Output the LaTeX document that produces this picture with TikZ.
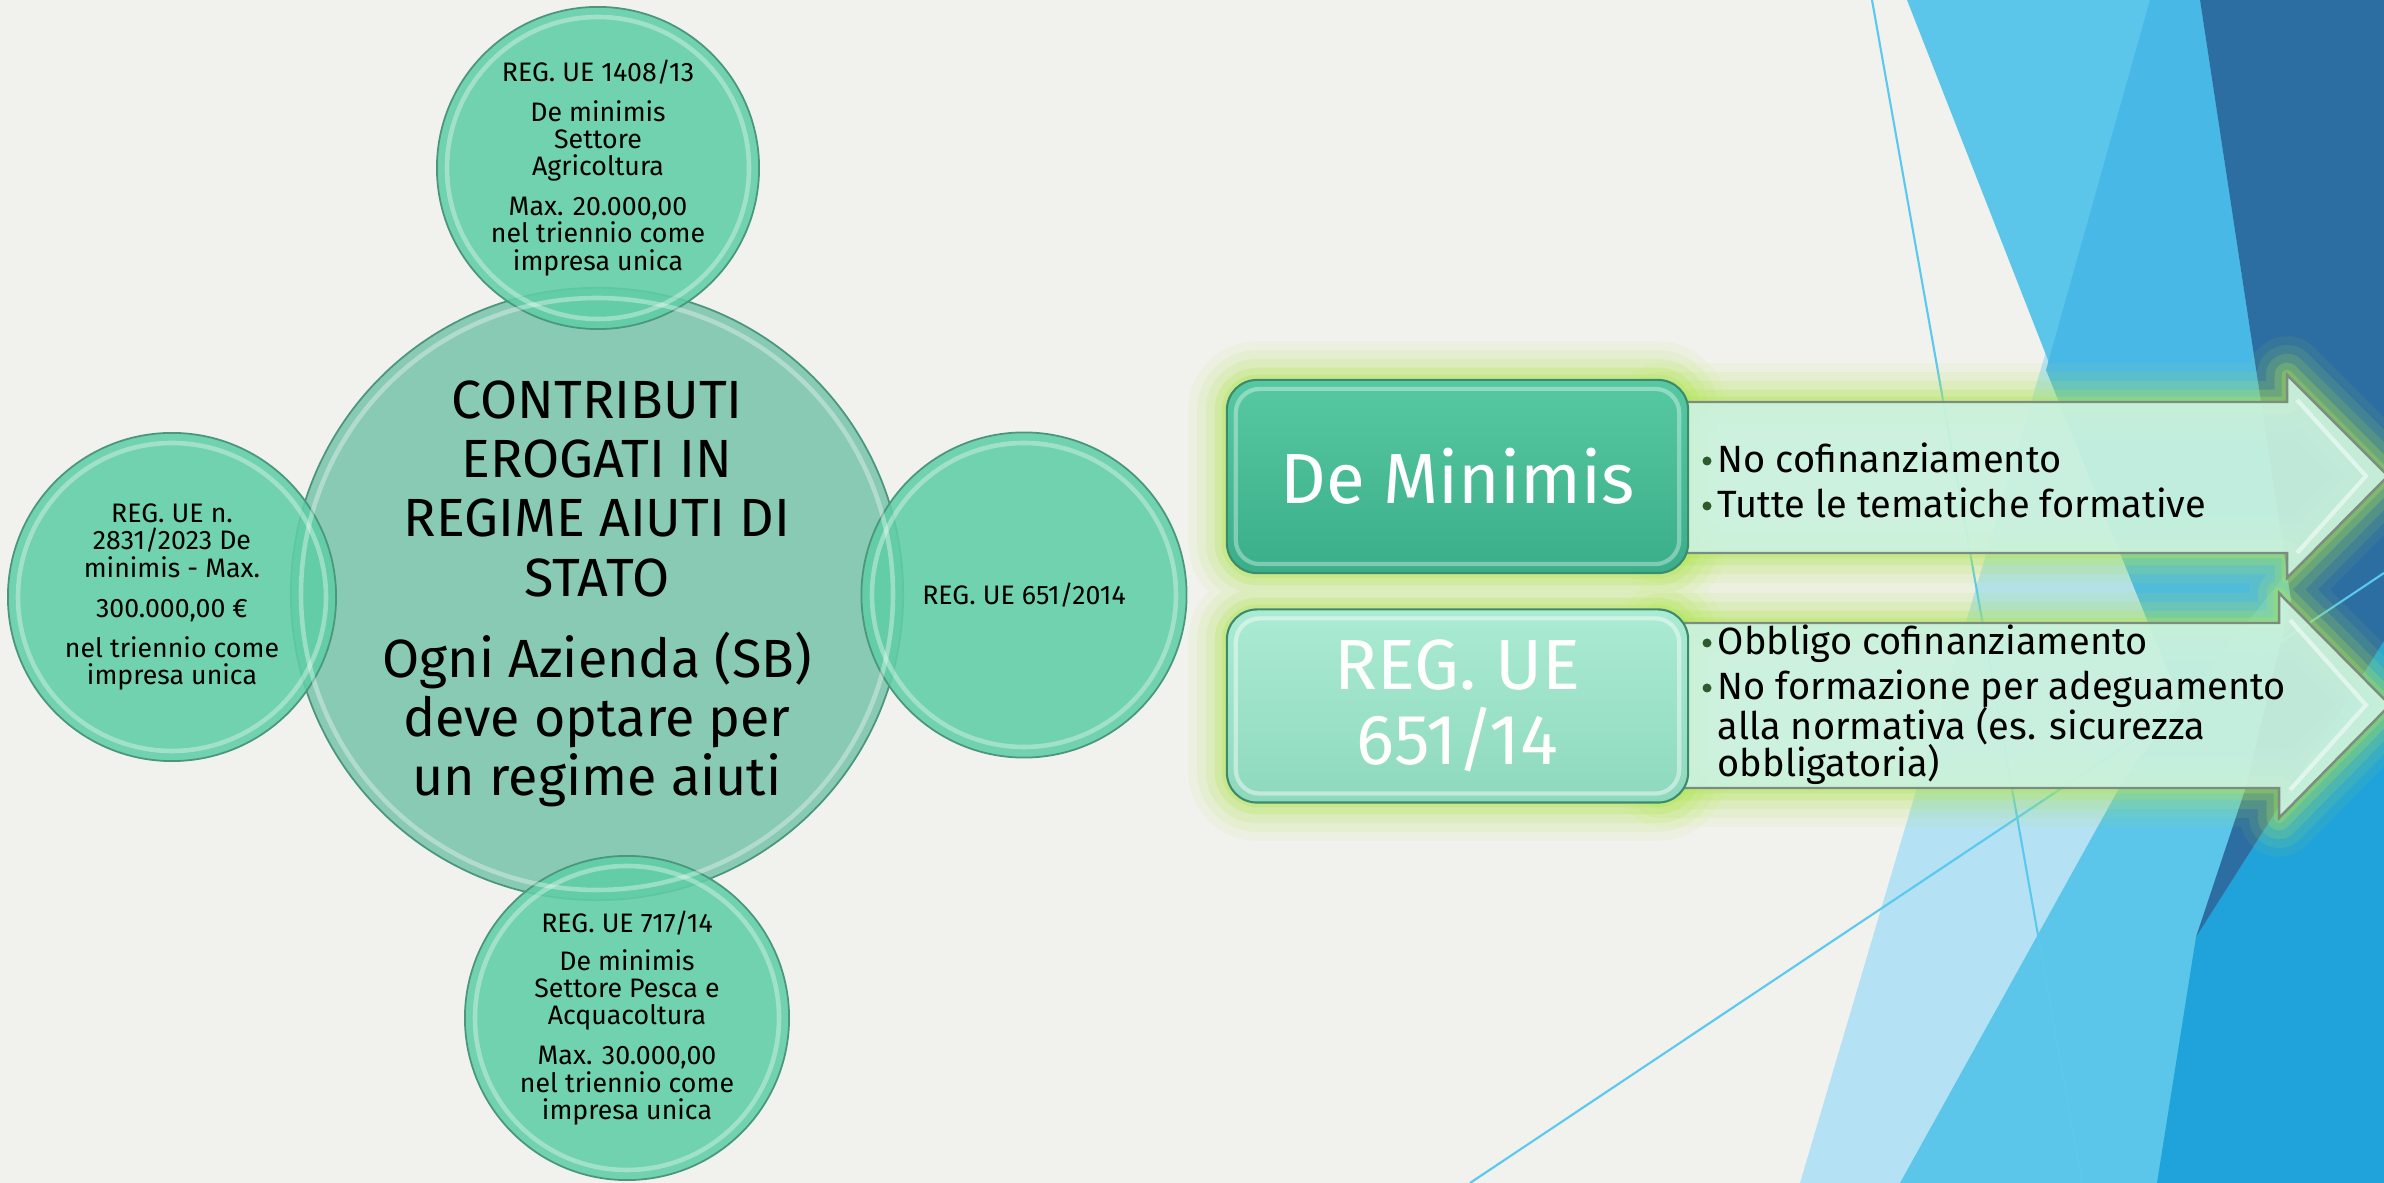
\documentclass[tikz,border=0pt]{standalone}
\usepackage{fontspec}
\setmainfont{Fira Sans}
\definecolor{bgc}{HTML}{F1F1EE}
\definecolor{lb}{HTML}{5BC5EA}
\definecolor{lb2}{HTML}{48B8E6}
\definecolor{pb}{HTML}{B4E1F3}
\definecolor{mb}{HTML}{20A2DA}
\definecolor{db}{HTML}{2C6DA2}
\definecolor{linec}{HTML}{5BC8EE}
\definecolor{cbig}{HTML}{7AC5AB}
\definecolor{csm}{HTML}{5FCEA6}
\definecolor{cedge}{HTML}{4A977D}
\definecolor{glowc}{HTML}{B2E652}
\definecolor{b1t}{HTML}{57C9A2}
\definecolor{b1b}{HTML}{3AAE89}
\definecolor{b2t}{HTML}{ABEBD3}
\definecolor{b2b}{HTML}{8DD9BE}
\definecolor{bedge}{HTML}{3E8A6F}
\definecolor{arrf}{HTML}{CBF2DE}
\definecolor{arre}{HTML}{7D8C82}
\definecolor{bul}{HTML}{2E5B2E}
\tikzset{
  circ/.style={circle, draw=cedge, line width=0.5pt, fill opacity=0.88, text opacity=1,
    inner sep=0pt, align=center, text=black},
  smallt/.style={font=\fontsize{7.6}{7.8}\selectfont},
  rim/.style={white, opacity=0.35, line width=1.3pt},
  box/.style={rectangle, rounded corners=0.3cm, minimum width=4.61cm, minimum height=1.93cm,
    text=white, font=\fontsize{20.2}{21.3}\selectfont, line width=0.6pt, align=center,
    inner sep=0pt, draw=bedge},
  btxt/.style={anchor=base west, inner sep=0pt, font=\fontsize{10.8}{12}\selectfont, text=black},
  bdot/.style={fill=bul},
  arrowshape/.style={fill=arrf, fill opacity=0.93, draw=arre, line width=0.7pt, line join=miter}
}
\begin{document}
\begin{tikzpicture}[x=0.01cm,y=-0.01cm]
\useasboundingbox (0,0) rectangle (2384,1183);
\clip (0,0) rectangle (2384,1183);
% background
\fill[bgc] (0,0) rectangle (2384,1183);
\fill[pb] (2150,0) -- (2384,0) -- (2384,1183) -- (1800,1183) -- cycle;
\fill[lb] (1907,0) -- (2200,0) -- (2291,600) -- (2232,830) -- cycle;
\fill[lb2] (2150,0) -- (2200,0) -- (2291,600) -- (2232,830) -- (2046,370) -- cycle;
\fill[lb] (1900,1183) -- (2127,774) -- (2384,450) -- (2384,1183) -- cycle;
\fill[mb] (2157,1183) -- (2196,937) -- (2384,641) -- (2384,1183) -- cycle;
\fill[db] (2200,0) -- (2384,0) -- (2384,641) -- (2196,937) -- (2245,790) -- (2291,600) -- cycle;
\draw[linec, line width=0.6pt] (1872,0) -- (2082,1183);
\draw[linec, line width=0.6pt] (1470,1183) -- (2384,573);

% circles
\node[circ, fill=cbig, minimum size=6.12cm, font=\fontsize{15.3}{16.8}\selectfont] (cen) at (597,594)
  {CONTRIBUTI\\EROGATI IN\\REGIME AIUTI DI\\STATO\\[6.3pt]Ogni Azienda (SB)\\deve optare per\\un regime aiuti};
\node[circ, fill=csm, minimum size=3.22cm, smallt] (ctop) at (598,168)
  {REG. UE 1408/13\\[3.4pt]De minimis\\Settore\\Agricoltura\\[3.4pt]Max. 20.000,00\\nel triennio come\\impresa unica};
\node[circ, fill=csm, minimum size=3.28cm, smallt] (cleft) at (172,597)
  {REG. UE n.\\2831/2023 De\\minimis - Max.\\[3.7pt]300.000,00 €\\[3.5pt]nel triennio come\\impresa unica};
\node[circ, fill=csm, minimum size=3.25cm, smallt] (cright) at (1024,595) {REG. UE 651/2014};
\node[circ, fill=csm, minimum size=3.24cm, smallt] (cbot) at (627,1018)
  {REG. UE 717/14\\[3pt]De minimis\\Settore Pesca e\\Acquacoltura\\[3.6pt]Max. 30.000,00\\nel triennio come\\impresa unica};
\draw[rim] (cen.center) circle[radius=296];
\draw[rim] (ctop.center) circle[radius=151];
\draw[rim] (cleft.center) circle[radius=154];
\draw[rim] (cright.center) circle[radius=152];
\draw[rim] (cbot.center) circle[radius=152];

% glow
\foreach \w/\o in {22pt/0.08,17pt/0.11,12pt/0.16,7pt/0.24,3pt/0.3}{
  \draw[glowc, line width=\w, opacity=\o, rounded corners=0.3cm]
    (1227,380) rectangle (1688,573) (1227,610) rectangle (1688,802);
  \draw[glowc, line width=\w, opacity=\o, line join=round]
    (1660,402) -- (2287,402) -- (2287,375) -- (2388,476) -- (2287,578) -- (2287,553) -- (1660,553) -- cycle
    (1660,623) -- (2279,623) -- (2279,593) -- (2390,705) -- (2279,818) -- (2279,788) -- (1660,788) -- cycle;
}
% arrows
\path[arrowshape] (1660,402) -- (2287,402) -- (2287,375) -- (2388,476) -- (2287,578) -- (2287,553) -- (1660,553) -- cycle;
\path[arrowshape] (1660,623) -- (2279,623) -- (2279,593) -- (2390,705) -- (2279,818) -- (2279,788) -- (1660,788) -- cycle;
\draw[white, opacity=0.5, line width=1.2pt] (2297,400) -- (2366,476) -- (2297,553);
\draw[white, opacity=0.5, line width=1.2pt] (2290,620) -- (2366,705) -- (2290,790);

% boxes
\node[box, top color=b1t, bottom color=b1b] (dm) at (1457.5,476.5) {De Minimis};
\node[box, top color=b2t, bottom color=b2b] (reg) at (1457.5,706) {REG. UE\\651/14};
\draw[white, opacity=0.35, line width=1.2pt, rounded corners=0.24cm]
  ([shift={(10,10)}]dm.north west) rectangle ([shift={(-10,-10)}]dm.south east);
\draw[white, opacity=0.45, line width=1.2pt, rounded corners=0.24cm]
  ([shift={(10,10)}]reg.north west) rectangle ([shift={(-10,-10)}]reg.south east);

% bullet text
\node[btxt] (t1) at (1717,473) {No cofinanziamento};
\node[btxt] (t2) at (1717,518) {Tutte le tematiche formative};
\node[btxt] (t3) at (1717,655) {Obbligo cofinanziamento};
\node[btxt] (t4) at (1717,700) {No formazione per adeguamento};
\node[btxt] (t5) at (1717,740) {alla normativa (es. sicurezza};
\node[btxt] (t6) at (1717,777) {obbligatoria)};
\foreach \n in {t1,t2,t3,t4}{
  \fill[bdot] ([shift={(-10,-12)}]\n.base west) circle[radius=4.5];
}
\end{tikzpicture}
\end{document}
